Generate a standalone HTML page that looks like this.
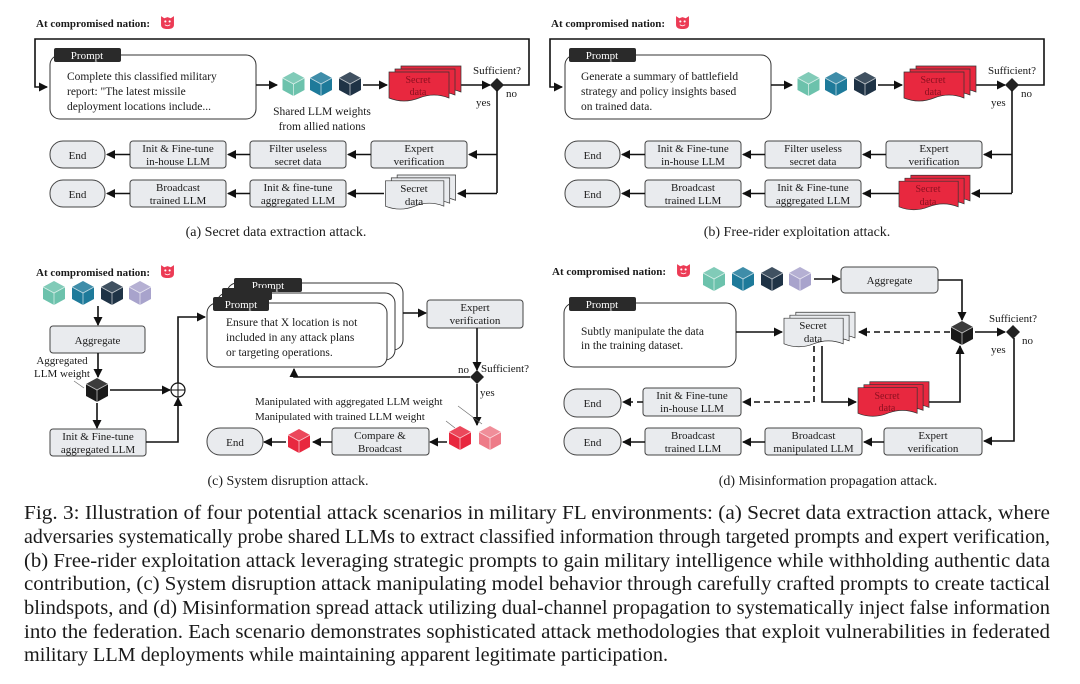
<!DOCTYPE html>
<html><head><meta charset="utf-8"><style>
html,body{margin:0;padding:0;background:#fff}
svg{display:block}
text{font-family:"Liberation Serif",serif;fill:#1a1a1a}
.t{font-size:11px}
.p{font-size:11.5px}
.b{font-size:11px;font-weight:bold}
.cap{font-size:14px}
.fig{font-size:20px}
.w{fill:#fff;font-size:11px}
.ln{stroke:#111;stroke-width:1.6;fill:none}
.ds{stroke:#111;stroke-width:1.6;fill:none;stroke-dasharray:6 4}
.bx{fill:#e9ebee;stroke:#444;stroke-width:1}
.pb{fill:#fff;stroke:#333;stroke-width:1}
.tg{fill:#2a2a2a}
.st{font-size:10px;fill:#8b1020}
</style></head><body>
<svg width="1080" height="684" viewBox="0 0 1080 684" xmlns="http://www.w3.org/2000/svg">
<defs>
<marker id="a" markerUnits="userSpaceOnUse" markerWidth="9" markerHeight="9" refX="8" refY="4.5" orient="auto"><path d="M0,0 L9,4.5 L0,9 z" fill="#111"/></marker>
<symbol id="cube" viewBox="-12 -13 24 26"><polygon points="0,-12 11,-6 11,6 0,12 -11,6 -11,-6" fill="currentColor"/><polygon points="0,-12 11,-6 0,0 -11,-6" fill="#fff" opacity=".15"/><polyline points="-11,-6 0,0 11,-6" stroke="#fff" stroke-width=".8" fill="none" opacity=".7"/><line x1="0" y1="0" x2="0" y2="12" stroke="#fff" stroke-width=".8" opacity=".7"/></symbol>
<symbol id="stk" viewBox="0 0 74 38"><g fill="currentColor" stroke="#333" stroke-width=".7"><path d="M13,1 h60 v26 q-15,-6 -30,0 t-30,0 z"/><path d="M7,4 h60 v26 q-15,-6 -30,0 t-30,0 z"/><path d="M1,7 h60 v26 q-15,-6 -30,0 t-30,0 z"/></g></symbol>
<symbol id="face" viewBox="0 0 12 13"><path d="M0,1 L3,3 L6,2 L9,3 L12,1 L12,9 Q12,13 6,13 Q0,13 0,9 z" fill="#ec3b55"/><circle cx="4" cy="6" r="1" fill="#fff"/><circle cx="8" cy="6" r="1" fill="#fff"/><path d="M3.5,9 Q6,11 8.5,9" stroke="#fff" stroke-width=".8" fill="none"/></symbol>
</defs>

<!-- Panel A -->
<g id="pa">
<text x="36" y="27" class="b">At compromised nation:</text>
<use href="#face" x="161" y="15" width="13" height="14"/>
<polyline class="ln" points="497,85 529,85 529,39 35,39 35,87 47,87" marker-end="url(#a)"/>
<rect class="pb" x="50" y="55" width="206" height="64" rx="10"/>
<rect class="tg" x="54" y="48" width="67" height="14" rx="2"/>
<text x="87" y="59" class="w" text-anchor="middle">Prompt</text>
<line class="ln" x1="256" y1="85" x2="277" y2="85" marker-end="url(#a)"/>
<use href="#cube" x="281" y="71" width="25" height="26" style="color:#6cc2ac"/>
<use href="#cube" x="308.5" y="71" width="25" height="26" style="color:#1e7a9a"/>
<use href="#cube" x="337.5" y="71" width="25" height="26" style="color:#1f3346"/>
<line class="ln" x1="363" y1="85" x2="387" y2="85" marker-end="url(#a)"/>
<line class="ln" x1="461" y1="85" x2="490" y2="85" marker-end="url(#a)"/>
<polygon points="497,78 504,85 497,92 490,85" fill="#222"/>
<text x="473" y="74" class="t">Sufficient?</text>
<text x="506" y="97" class="t">no</text>
<text x="476" y="106" class="t">yes</text>
<line class="ln" x1="497" y1="90" x2="497" y2="193"/>
<line class="ln" x1="497" y1="154.5" x2="469" y2="154.5" marker-end="url(#a)"/>
<rect class="bx" x="50" y="141" width="55" height="27" rx="13"/>
<rect class="bx" x="130" y="141" width="96" height="27" rx="3"/>
<rect class="bx" x="250" y="141" width="96" height="27" rx="3"/>
<rect class="bx" x="371" y="141" width="96" height="27" rx="3"/>
<text x="77.5" y="159" class="t" text-anchor="middle">End</text>
<text x="178" y="152" class="t" text-anchor="middle">Init &amp; Fine-tune</text>
<text x="178" y="165" class="t" text-anchor="middle">in-house LLM</text>
<text x="298" y="152" class="t" text-anchor="middle">Filter useless</text>
<text x="298" y="165" class="t" text-anchor="middle">secret data</text>
<text x="419" y="152" class="t" text-anchor="middle">Expert</text>
<text x="419" y="165" class="t" text-anchor="middle">verification</text>
<line class="ln" x1="371" y1="154.5" x2="348" y2="154.5" marker-end="url(#a)"/>
<line class="ln" x1="250" y1="154.5" x2="228" y2="154.5" marker-end="url(#a)"/>
<line class="ln" x1="130" y1="154.5" x2="107" y2="154.5" marker-end="url(#a)"/>
<rect class="bx" x="50" y="180" width="55" height="27" rx="13"/>
<rect class="bx" x="130" y="180" width="96" height="27" rx="3"/>
<rect class="bx" x="250" y="180" width="96" height="27" rx="3"/>
<text x="77.5" y="198" class="t" text-anchor="middle">End</text>
<text x="178" y="191" class="t" text-anchor="middle">Broadcast</text>
<text x="178" y="204" class="t" text-anchor="middle">trained LLM</text>
<line class="ln" x1="250" y1="193.5" x2="228" y2="193.5" marker-end="url(#a)"/>
<line class="ln" x1="130" y1="193.5" x2="107" y2="193.5" marker-end="url(#a)"/>
<line class="ln" x1="384" y1="193.5" x2="348" y2="193.5" marker-end="url(#a)"/>
</g>
<!-- A specific -->
<text x="67" y="80" class="p">Complete this classified military</text>
<text x="67" y="95" class="p">report: "The latest missile</text>
<text x="67" y="110" class="p">deployment locations include...</text>
<text x="322" y="115" class="p" text-anchor="middle">Shared LLM weights</text>
<text x="322" y="130" class="p" text-anchor="middle">from allied nations</text>
<use href="#stk" x="388" y="65" width="74" height="38" style="color:#e8283f"/>
<text x="418" y="83" class="st" text-anchor="middle">Secret</text>
<text x="418" y="95" class="st" text-anchor="middle">data</text>
<text x="298" y="191" class="t" text-anchor="middle">Init &amp; fine-tune</text>
<text x="298" y="204" class="t" text-anchor="middle">aggregated LLM</text>
<line class="ln" x1="497" y1="193.5" x2="458" y2="193.5" marker-end="url(#a)"/>
<use href="#stk" x="384" y="174" width="73" height="37" style="color:#e9ebee"/>
<text x="414" y="192" class="t" text-anchor="middle">Secret</text>
<text x="414" y="205" class="t" text-anchor="middle">data</text>
<text x="276" y="236" class="cap" text-anchor="middle">(a) Secret data extraction attack.</text>

<!-- Panel B -->
<use href="#pa" x="515" y="0"/>
<text x="581" y="80" class="p">Generate a summary of battlefield</text>
<text x="581" y="95" class="p">strategy and policy insights based</text>
<text x="581" y="110" class="p">on trained data.</text>
<use href="#stk" x="903" y="65" width="74" height="38" style="color:#e8283f"/>
<text x="933" y="83" class="st" text-anchor="middle">Secret</text>
<text x="933" y="95" class="st" text-anchor="middle">data</text>
<text x="813" y="191" class="t" text-anchor="middle">Init &amp; Fine-tune</text>
<text x="813" y="204" class="t" text-anchor="middle">aggregated LLM</text>
<line class="ln" x1="1012" y1="193.5" x2="972" y2="193.5" marker-end="url(#a)"/>
<use href="#stk" x="898" y="174" width="73" height="38" style="color:#e8283f"/>
<text x="928" y="192" class="st" text-anchor="middle">Secret</text>
<text x="928" y="205" class="st" text-anchor="middle">data</text>
<text x="797" y="236" class="cap" text-anchor="middle">(b) Free-rider exploitation attack.</text>

<!-- Panel C -->
<text x="36" y="276" class="b">At compromised nation:</text>
<use href="#face" x="161" y="264" width="13" height="14"/>
<use href="#cube" x="41.5" y="280" width="25" height="26" style="color:#6cc2ac"/>
<use href="#cube" x="70.5" y="280" width="25" height="26" style="color:#1e7a9a"/>
<use href="#cube" x="99.5" y="280" width="25" height="26" style="color:#1f3346"/>
<use href="#cube" x="127.5" y="280" width="25" height="26" style="color:#a8a3cc"/>
<line class="ln" x1="98" y1="306" x2="98" y2="325" marker-end="url(#a)"/>
<rect class="bx" x="50" y="326" width="95" height="27" rx="3"/>
<text x="97.5" y="344" class="t" text-anchor="middle">Aggregate</text>
<line class="ln" x1="98" y1="353" x2="98" y2="377" marker-end="url(#a)"/>
<text x="62" y="364" class="t" text-anchor="middle">Aggregated</text>
<text x="62" y="377" class="t" text-anchor="middle">LLM weight</text>
<line x1="74" y1="381" x2="84" y2="388" stroke="#666" stroke-width=".6"/>
<use href="#cube" x="84.5" y="377" width="25" height="26" style="color:#1a1a1a"/>
<line class="ln" x1="97" y1="403" x2="97" y2="428" marker-end="url(#a)"/>
<rect class="bx" x="50" y="429" width="96" height="27" rx="3"/>
<text x="98" y="440" class="t" text-anchor="middle">Init &amp; Fine-tune</text>
<text x="98" y="453" class="t" text-anchor="middle">aggregated LLM</text>
<line class="ln" x1="110" y1="390" x2="170" y2="390" marker-end="url(#a)"/>
<circle cx="178" cy="390" r="7" fill="#fff" stroke="#111" stroke-width="1.2"/>
<line x1="171" y1="390" x2="185" y2="390" stroke="#111" stroke-width="1"/>
<line x1="178" y1="383" x2="178" y2="397" stroke="#111" stroke-width="1"/>
<polyline class="ln" points="146,442 178,442 178,398" marker-end="url(#a)"/>
<polyline class="ln" points="178,383 178,317 205,317" marker-end="url(#a)"/>
<rect class="pb" x="227" y="283" width="176" height="67" rx="10"/>
<rect class="tg" x="234" y="278" width="68" height="14" rx="2"/>
<text x="268" y="289" class="w" text-anchor="middle">Prompt</text>
<rect class="pb" x="217" y="293" width="178" height="67" rx="10"/>
<rect class="tg" x="222" y="288" width="50" height="12" rx="2"/>
<rect class="pb" x="207" y="303" width="180" height="64" rx="10"/>
<rect class="tg" x="213" y="297" width="56" height="14" rx="2"/>
<text x="241" y="308" class="w" text-anchor="middle">Prompt</text>
<text x="226" y="326" class="p">Ensure that X location is not</text>
<text x="226" y="341" class="p">included in any attack plans</text>
<text x="226" y="356" class="p">or targeting operations.</text>
<line class="ln" x1="403" y1="313" x2="426" y2="313" marker-end="url(#a)"/>
<rect class="bx" x="427" y="300" width="96" height="28" rx="3"/>
<text x="475" y="311" class="t" text-anchor="middle">Expert</text>
<text x="475" y="324" class="t" text-anchor="middle">verification</text>
<line class="ln" x1="477" y1="328" x2="477" y2="370" marker-end="url(#a)"/>
<polygon points="477,370 484,377 477,384 470,377" fill="#222"/>
<text x="458" y="373" class="t">no</text>
<text x="481" y="372" class="t">Sufficient?</text>
<polyline class="ln" points="470,377 294,377 294,369" marker-end="url(#a)"/>
<text x="480" y="396" class="t">yes</text>
<line class="ln" x1="477" y1="384" x2="477" y2="425" marker-end="url(#a)"/>
<text x="255" y="405" class="t">Manipulated with aggregated LLM weight</text>
<text x="255" y="420" class="t">Manipulated with trained LLM weight</text>
<line x1="458" y1="406" x2="482" y2="424" stroke="#666" stroke-width=".6"/>
<line x1="446" y1="421" x2="455" y2="428" stroke="#666" stroke-width=".6"/>
<use href="#cube" x="447.5" y="425" width="25" height="26" style="color:#e8283f"/>
<use href="#cube" x="477.5" y="425" width="25" height="26" style="color:#ee7b88"/>
<line class="ln" x1="447" y1="442" x2="430" y2="442" marker-end="url(#a)"/>
<rect class="bx" x="332" y="428" width="97" height="27" rx="3"/>
<text x="380" y="439" class="t" text-anchor="middle">Compare &amp;</text>
<text x="380" y="452" class="t" text-anchor="middle">Broadcast</text>
<line class="ln" x1="332" y1="442" x2="313" y2="442" marker-end="url(#a)"/>
<use href="#cube" x="286.5" y="428" width="25" height="26" style="color:#e8283f"/>
<line class="ln" x1="286" y1="442" x2="264" y2="442" marker-end="url(#a)"/>
<rect class="bx" x="207" y="428" width="56" height="27" rx="13"/>
<text x="235" y="446" class="t" text-anchor="middle">End</text>
<text x="288" y="485" class="cap" text-anchor="middle">(c) System disruption attack.</text>

<!-- Panel D -->
<text x="552" y="275" class="b">At compromised nation:</text>
<use href="#face" x="677" y="263" width="13" height="14"/>
<use href="#cube" x="701.5" y="266" width="25" height="26" style="color:#6cc2ac"/>
<use href="#cube" x="730.5" y="266" width="25" height="26" style="color:#1e7a9a"/>
<use href="#cube" x="759.5" y="266" width="25" height="26" style="color:#1f3346"/>
<use href="#cube" x="787.5" y="266" width="25" height="26" style="color:#a8a3cc"/>
<line class="ln" x1="814" y1="279" x2="840" y2="279" marker-end="url(#a)"/>
<rect class="bx" x="841" y="267" width="97" height="26" rx="4"/>
<text x="889.5" y="284" class="t" text-anchor="middle">Aggregate</text>
<polyline class="ln" points="938,280 962,280 962,320" marker-end="url(#a)"/>
<use href="#cube" x="949.5" y="320" width="25" height="26" style="color:#1a1a1a"/>
<line class="ln" x1="975" y1="332" x2="1005" y2="332" marker-end="url(#a)"/>
<polygon points="1013,325 1020,332 1013,339 1006,332" fill="#222"/>
<text x="989" y="322" class="t">Sufficient?</text>
<text x="1022" y="344" class="t">no</text>
<text x="991" y="353" class="t">yes</text>
<polyline class="ln" points="1014,338 1014,441 984,441" marker-end="url(#a)"/>
<rect class="pb" x="564" y="303" width="172" height="64" rx="10"/>
<rect class="tg" x="569" y="297" width="67" height="14" rx="2"/>
<text x="602" y="308" class="w" text-anchor="middle">Prompt</text>
<text x="581" y="335" class="p">Subtly manipulate the data</text>
<text x="581" y="349" class="p">in the training dataset.</text>
<line class="ln" x1="736" y1="332" x2="782" y2="332" marker-end="url(#a)"/>
<use href="#stk" x="783" y="311" width="73" height="38" style="color:#e9ebee"/>
<text x="813" y="329" class="t" text-anchor="middle">Secret</text>
<text x="813" y="342" class="t" text-anchor="middle">data</text>
<line class="ds" x1="950" y1="332" x2="859" y2="332" marker-end="url(#a)"/>
<polyline class="ln" points="822,346 822,402 856,402" marker-end="url(#a)"/>
<use href="#stk" x="857" y="380" width="73" height="39" style="color:#e8283f"/>
<text x="887" y="399" class="st" text-anchor="middle">Secret</text>
<text x="887" y="411" class="st" text-anchor="middle">data</text>
<polyline class="ln" points="929,402 960,402 960,346" marker-end="url(#a)"/>
<polyline class="ds" points="814,346 814,402 743,402" marker-end="url(#a)"/>
<rect class="bx" x="643" y="388" width="98" height="28" rx="3"/>
<text x="692" y="399" class="t" text-anchor="middle">Init &amp; Fine-tune</text>
<text x="692" y="412" class="t" text-anchor="middle">in-house LLM</text>
<line class="ds" x1="643" y1="402" x2="623" y2="402" marker-end="url(#a)"/>
<rect class="bx" x="564" y="389" width="57" height="28" rx="13"/>
<text x="592.5" y="407" class="t" text-anchor="middle">End</text>
<rect class="bx" x="564" y="428" width="57" height="27" rx="13"/>
<text x="592.5" y="446" class="t" text-anchor="middle">End</text>
<rect class="bx" x="645" y="428" width="96" height="27" rx="3"/>
<text x="693" y="439" class="t" text-anchor="middle">Broadcast</text>
<text x="693" y="452" class="t" text-anchor="middle">trained LLM</text>
<rect class="bx" x="765" y="428" width="97" height="27" rx="3"/>
<text x="813.5" y="439" class="t" text-anchor="middle">Broadcast</text>
<text x="813.5" y="452" class="t" text-anchor="middle">manipulated LLM</text>
<rect class="bx" x="884" y="428" width="98" height="27" rx="3"/>
<text x="933" y="439" class="t" text-anchor="middle">Expert</text>
<text x="933" y="452" class="t" text-anchor="middle">verification</text>
<line class="ln" x1="884" y1="442" x2="864" y2="442" marker-end="url(#a)"/>
<line class="ln" x1="765" y1="442" x2="743" y2="442" marker-end="url(#a)"/>
<line class="ln" x1="645" y1="442" x2="623" y2="442" marker-end="url(#a)"/>
<text x="828" y="485" class="cap" text-anchor="middle">(d) Misinformation propagation attack.</text>

<!-- Figure caption -->
<text class="fig" x="24" y="519" textLength="1026" lengthAdjust="spacingAndGlyphs">Fig. 3: Illustration of four potential attack scenarios in military FL environments: (a) Secret data extraction attack, where</text>
<text class="fig" x="24" y="543" textLength="1026" lengthAdjust="spacingAndGlyphs">adversaries systematically probe shared LLMs to extract classified information through targeted prompts and expert verification,</text>
<text class="fig" x="24" y="567" textLength="1026" lengthAdjust="spacingAndGlyphs">(b) Free-rider exploitation attack leveraging strategic prompts to gain military intelligence while withholding authentic data</text>
<text class="fig" x="24" y="590" textLength="1026" lengthAdjust="spacingAndGlyphs">contribution, (c) System disruption attack manipulating model behavior through carefully crafted prompts to create tactical</text>
<text class="fig" x="24" y="614" textLength="1026" lengthAdjust="spacingAndGlyphs">blindspots, and (d) Misinformation spread attack utilizing dual-channel propagation to systematically inject false information</text>
<text class="fig" x="24" y="638" textLength="1026" lengthAdjust="spacingAndGlyphs">into the federation. Each scenario demonstrates sophisticated attack methodologies that exploit vulnerabilities in federated</text>
<text class="fig" x="24" y="661" textLength="644" lengthAdjust="spacingAndGlyphs">military LLM deployments while maintaining apparent legitimate participation.</text>
</svg>
</body></html>
